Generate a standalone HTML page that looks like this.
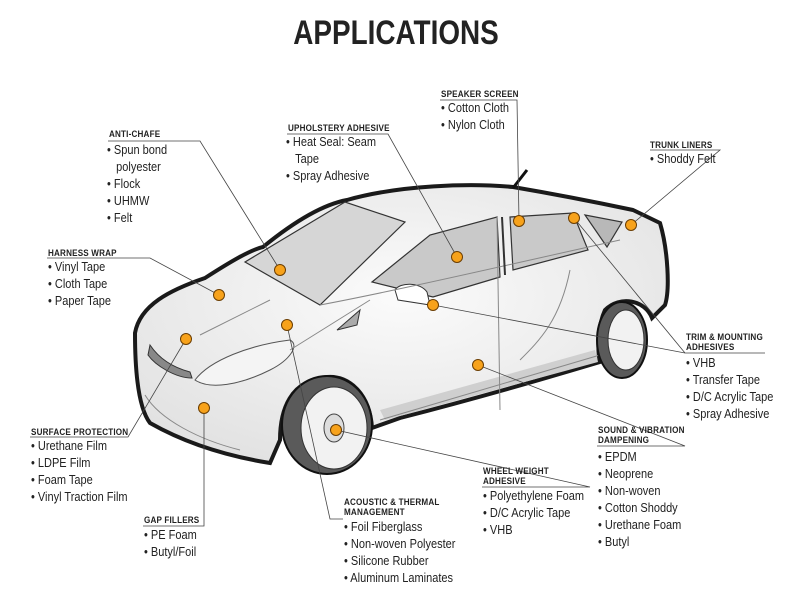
<!DOCTYPE html>
<html><head><meta charset="utf-8"><style>
body{margin:0;background:#fff}
#w{position:relative;width:792px;height:612px;overflow:hidden;font-family:"Liberation Sans",sans-serif;color:#222}
.t{position:absolute;font-weight:bold;font-size:9px;letter-spacing:0.2px;transform:scaleX(0.9);transform-origin:0 0;white-space:nowrap}
.l{position:absolute;font-size:12.5px;line-height:17px;transform:scaleX(0.88);transform-origin:0 0;white-space:nowrap}
h1{position:absolute;left:0;width:792px;top:14px;margin:0;text-align:center;font-size:34px;font-weight:bold;transform:scaleX(0.82);color:#222}
svg{position:absolute;left:0;top:0}
</style></head><body><div id="w">
<svg width="792" height="612" viewBox="0 0 792 612">
<defs><radialGradient id="g" cx="0.5" cy="0.4" r="0.7"><stop offset="0" stop-color="#fbfbfb"/><stop offset="1" stop-color="#e0e0e0"/></radialGradient></defs>
<path d="M135,333 C140,305 170,290 205,278 C230,262 250,250 263,247 C290,225 320,205 347,200 C400,185 470,183 513,187 C560,195 600,203 633,210 L660,223 C668,250 670,290 665,305 L652,318 C645,300 620,295 605,310 C598,325 597,350 600,362 C540,380 470,400 400,418 L372,428 C370,395 350,375 327,377 C290,380 280,410 280,440 L270,463 C220,455 180,440 150,423 C140,410 135,380 135,333 Z" fill="url(#g)" stroke="#1a1a1a" stroke-width="4"/>
<path d="M380,410 L595,350 L598,362 L385,420 Z" fill="#cfcfcf"/>
<polygon points="245,262 345,202 405,222 320,305" fill="#d6d6d6" stroke="#333" stroke-width="1.2"/>
<polygon points="372,282 430,235 497,217 500,277 433,297" fill="#c9c9c9" stroke="#333" stroke-width="1.2"/>
<polygon points="510,217 573,213 588,250 513,270" fill="#c9c9c9" stroke="#333" stroke-width="1.2"/>
<polygon points="585,215 622,222 607,247" fill="#b8b8b8" stroke="#333" stroke-width="1.2"/>
<polygon points="337,330 360,310 357,325" fill="#aaa" stroke="#333"/>
<path d="M395,290 C400,282 420,282 427,292 L430,305 L398,300 Z" fill="#fff" stroke="#333"/>
<path d="M195,380 C210,360 250,345 290,340 C300,345 290,360 270,370 C240,385 210,390 195,380 Z" fill="#f4f4f4" stroke="#555"/>
<path d="M150,345 C160,360 175,368 190,372 L192,378 C175,378 155,365 148,355 Z" fill="#888" stroke="#333"/>
<path d="M320,305 C400,290 520,262 620,240 M497,217 L500,410 M200,335 C230,320 250,310 270,300 M145,395 C160,420 200,440 240,450 M290,350 L370,300 M380,420 L600,355 M570,270 C560,320 540,340 520,360" fill="none" stroke="#888" stroke-width="1"/>
<line x1="502" y1="217" x2="505" y2="275" stroke="#333" stroke-width="2"/>
<ellipse cx="327" cy="425" rx="45" ry="49" fill="#5a5a5a" stroke="#111" stroke-width="2"/>
<ellipse cx="334" cy="428" rx="33" ry="41" fill="#f2f2f2" stroke="#333"/>
<ellipse cx="334" cy="428" rx="10" ry="14" fill="#ddd" stroke="#444"/>
<ellipse cx="622" cy="340" rx="25" ry="38" fill="#5a5a5a" stroke="#111" stroke-width="2"/>
<ellipse cx="626" cy="340" rx="18" ry="30" fill="#f2f2f2" stroke="#333"/>
<line x1="513" y1="188" x2="527" y2="170" stroke="#111" stroke-width="3"/>
<g stroke="#444" stroke-width="0.8" fill="none">
<polyline points="108,141 200,141 280,270"/>
<polyline points="47,258 150,258 219,295"/>
<polyline points="30,437 128,437 186,339"/>
<polyline points="143,526 204,526 204,408"/>
<polyline points="343,519 330,519 287,325"/>
<polyline points="482,487 590,487 336,430"/>
<polyline points="597,446 685,446 478,365"/>
<polyline points="765,353 685,353 433,305"/>
<polyline points="685,353 574,218"/>
<polyline points="650,150 720,150 631,225"/>
<polyline points="440,100 517,100 519,221"/>
<polyline points="287,134 388,134 457,257"/>
</g>
<g fill="#f7a21b" stroke="#6b3d00" stroke-width="1">
<circle cx="280" cy="270" r="5.5"/><circle cx="219" cy="295" r="5.5"/><circle cx="186" cy="339" r="5.5"/>
<circle cx="287" cy="325" r="5.5"/><circle cx="204" cy="408" r="5.5"/><circle cx="336" cy="430" r="5.5"/>
<circle cx="433" cy="305" r="5.5"/><circle cx="457" cy="257" r="5.5"/><circle cx="478" cy="365" r="5.5"/>
<circle cx="519" cy="221" r="5.5"/><circle cx="574" cy="218" r="5.5"/><circle cx="631" cy="225" r="5.5"/>
</g>
</svg>
<h1>APPLICATIONS</h1>
<div class="t" style="left:441px;top:89px">SPEAKER SCREEN</div>
<div class="l" style="left:441px;top:100px">• Cotton Cloth<br>• Nylon Cloth</div>
<div class="t" style="left:288px;top:123px">UPHOLSTERY ADHESIVE</div>
<div class="l" style="left:286px;top:134px">• Heat Seal: Seam<br>&nbsp;&nbsp;&nbsp;Tape<br>• Spray Adhesive</div>
<div class="t" style="left:109px;top:129px">ANTI-CHAFE</div>
<div class="l" style="left:107px;top:142px">• Spun bond<br>&nbsp;&nbsp;&nbsp;polyester<br>• Flock<br>• UHMW<br>• Felt</div>
<div class="t" style="left:650px;top:140px">TRUNK LINERS</div>
<div class="l" style="left:650px;top:151px">• Shoddy Felt</div>
<div class="t" style="left:48px;top:248px">HARNESS WRAP</div>
<div class="l" style="left:48px;top:259px">• Vinyl Tape<br>• Cloth Tape<br>• Paper Tape</div>
<div class="t" style="left:686px;top:332px">TRIM &amp; MOUNTING<br>ADHESIVES</div>
<div class="l" style="left:686px;top:355px">• VHB<br>• Transfer Tape<br>• D/C Acrylic Tape<br>• Spray Adhesive</div>
<div class="t" style="left:598px;top:425px">SOUND &amp; VIBRATION<br>DAMPENING</div>
<div class="l" style="left:598px;top:449px">• EPDM<br>• Neoprene<br>• Non-woven<br>• Cotton Shoddy<br>• Urethane Foam<br>• Butyl</div>
<div class="t" style="left:31px;top:427px">SURFACE PROTECTION</div>
<div class="l" style="left:31px;top:438px">• Urethane Film<br>• LDPE Film<br>• Foam Tape<br>• Vinyl Traction Film</div>
<div class="t" style="left:483px;top:466px">WHEEL WEIGHT<br>ADHESIVE</div>
<div class="l" style="left:483px;top:488px">• Polyethylene Foam<br>• D/C Acrylic Tape<br>• VHB</div>
<div class="t" style="left:344px;top:497px">ACOUSTIC &amp; THERMAL<br>MANAGEMENT</div>
<div class="l" style="left:344px;top:519px">• Foil Fiberglass<br>• Non-woven Polyester<br>• Silicone Rubber<br>• Aluminum Laminates</div>
<div class="t" style="left:144px;top:515px">GAP FILLERS</div>
<div class="l" style="left:144px;top:527px">• PE Foam<br>• Butyl/Foil</div>
</div></body></html>
